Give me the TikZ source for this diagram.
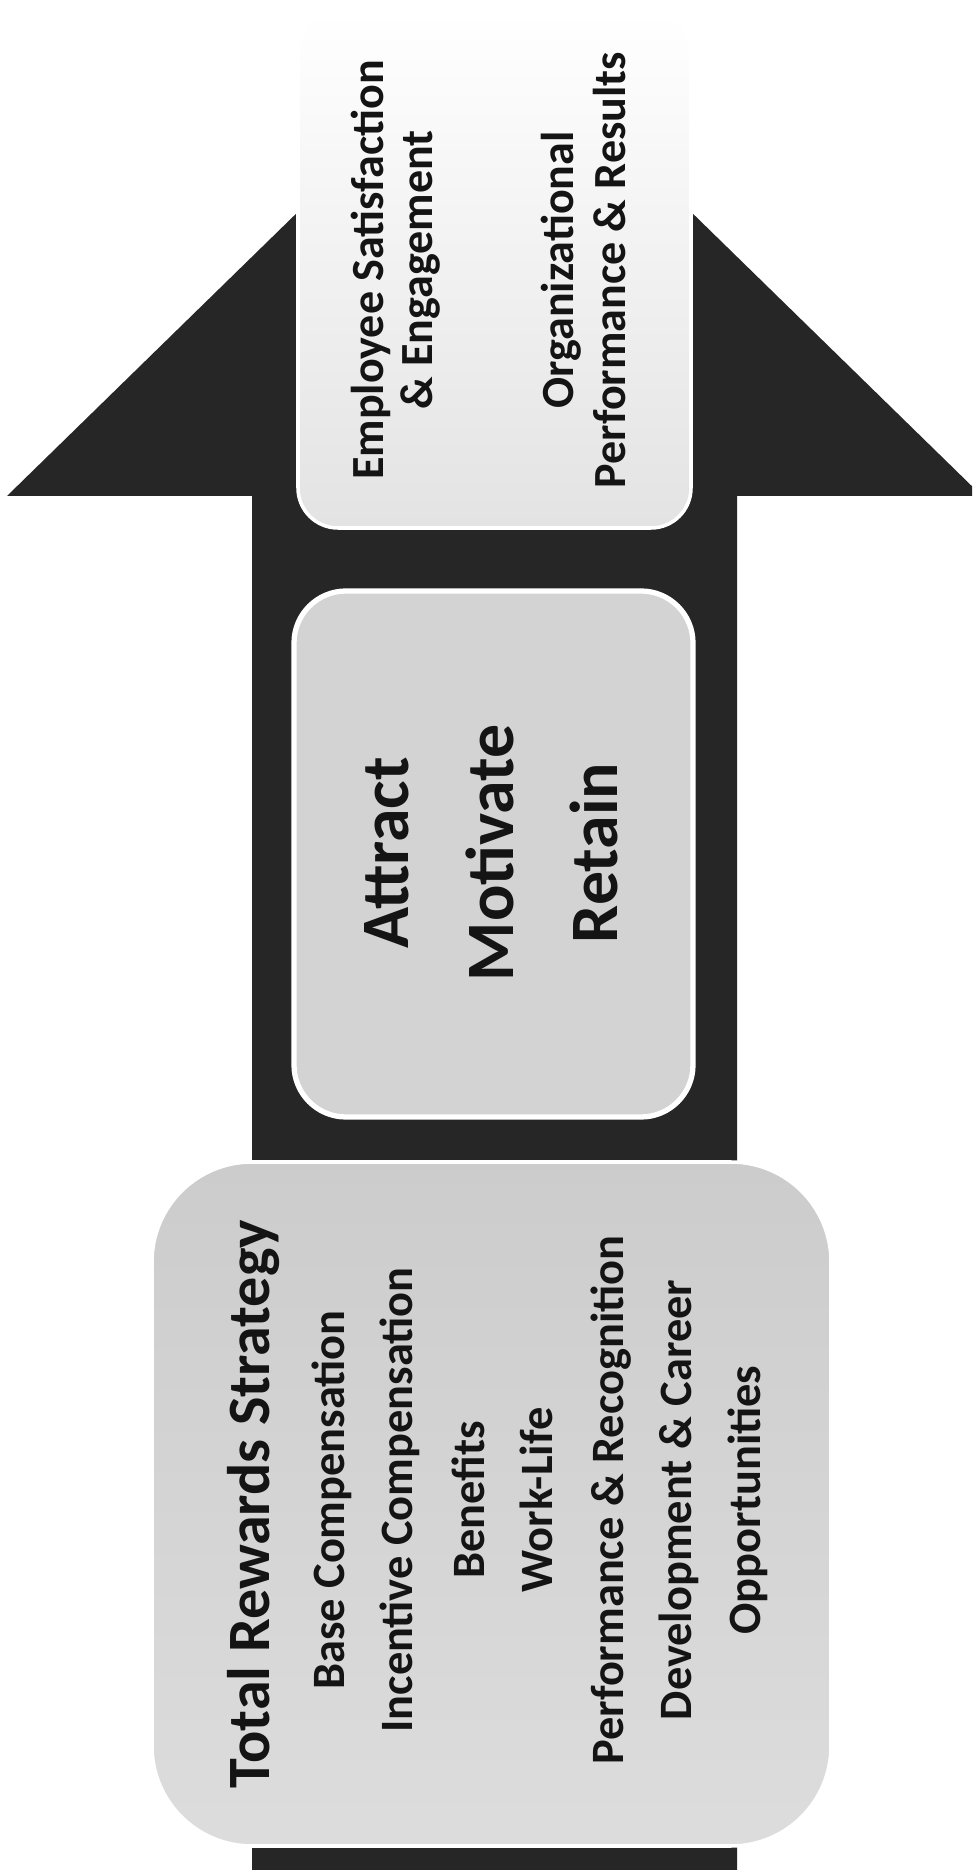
\documentclass[tikz,border=0pt]{standalone}
\usepackage{fontspec}
\setmainfont{Carlito}
\usepackage{tikz}

\definecolor{shaftgray}{HTML}{262626}
\definecolor{midgray}{HTML}{D3D3D3}
\definecolor{inkblack}{HTML}{141414}

\begin{document}
\begin{tikzpicture}[
    goaltext/.style={rotate=90, anchor=base, inner sep=0pt, text=inkblack,
      font=\bfseries\fontsize{13.1}{15}\selectfont},
    movetext/.style={rotate=90, anchor=base, inner sep=0pt, text=inkblack,
      font=\bfseries\fontsize{19.3}{22}\selectfont},
    titletext/.style={rotate=90, anchor=base, inner sep=0pt, text=inkblack,
      font=\bfseries\fontsize{17.1}{20}\selectfont},
    itemtext/.style={rotate=90, anchor=base, inner sep=0pt, text=inkblack,
      font=\bfseries\fontsize{13.2}{15}\selectfont}
  ]
  % Page frame: 972 x 1875 px, 1 px = 0.01 cm
  \useasboundingbox (0,0) rectangle (9.72,18.75);
  \clip (0,0) rectangle (9.72,18.75);

  % Big dark arrow pointing up
  \fill[shaftgray] (2.52,0.05) -- (2.52,13.79) -- (0.07,13.79) -- (4.945,18.55)
    -- (9.82,13.79) -- (7.37,13.79) -- (7.37,0.05) -- cycle;

  % Outcome box at the tip
  \path[draw=white, line width=1pt, top color=white, bottom color=gray!22,
    rounded corners=0.4cm] (2.98,13.47) rectangle (6.91,18.63);

  % Middle box
  \path[draw=white, line width=1.5pt, fill=midgray,
    rounded corners=0.52cm] (2.94,7.58) rectangle (6.93,12.84);

  % Strategy box at the tail
  \path[draw=white, line width=1pt, top color=gray!40, bottom color=gray!27,
    rounded corners=1cm] (1.52,0.29) rectangle (8.31,7.13);

  % Outcome texts
  \node[goaltext] (employee) at (3.83,16.05) {Employee Satisfaction};
  \node[goaltext] (engage) at (4.32,16.05) {\& Engagement};
  \node[goaltext] (organiz) at (5.73,16.05) {Organizational};
  \node[goaltext] (results) at (6.25,16.05) {Performance \& Results};

  % Attract, motivate, retain
  \node[movetext] (attract) at (4.08,10.22) {Attract};
  \node[movetext] (motivate) at (5.13,10.22) {Motivate};
  \node[movetext] (retain) at (6.17,10.22) {Retain};

  % Total rewards list
  \node[titletext] (total) at (2.70,3.71) {Total Rewards Strategy};
  \node[itemtext] (basecomp) at (3.44,3.75) {Base Compensation};
  \node[itemtext] (incentive) at (4.12,3.75) {Incentive Compensation};
  \node[itemtext] (benefits) at (4.84,3.75) {Benefits};
  \node[itemtext] (worklife) at (5.52,3.75) {Work-Life};
  \node[itemtext] (recognition) at (6.23,3.75) {Performance \& Recognition};
  \node[itemtext] (career) at (6.91,3.75) {Development \& Career};
  \node[itemtext] (opportun) at (7.60,3.75) {Opportunities};

\end{tikzpicture}
\end{document}
